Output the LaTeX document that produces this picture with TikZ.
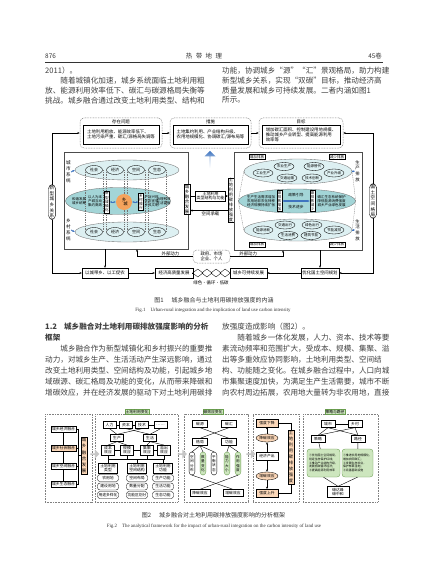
\documentclass[tikz,border=0pt]{standalone}
\usepackage{fontspec}
\setmainfont{Liberation Serif}
\newfontfamily\cjk{Noto Sans CJK SC}
\XeTeXlinebreaklocale "zh"
\XeTeXlinebreakskip=0pt plus 1pt
\usetikzlibrary{positioning,arrows.meta,shapes.geometric,shapes.arrows}

\definecolor{tealL}{HTML}{DDF0F2}
\definecolor{tealD}{HTML}{A3D5D7}
\definecolor{orngC}{HTML}{F5A35C}
\definecolor{orngL}{HTML}{FBD7B8}
\definecolor{grnL}{HTML}{CDE6BE}
\definecolor{grnD}{HTML}{6A9E4F}
\definecolor{blueA}{HTML}{3E74C0}

\begin{document}
\begin{tikzpicture}[
  x=1pt,y=-1pt,
  >={Stealth[length=2.4pt,width=2pt]},
  body/.style={font=\cjk\fontsize{7.6}{9}\selectfont,inner sep=0pt,anchor=west,text=black!75},
  hdr/.style={font=\cjk\fontsize{6.4}{8}\selectfont,inner sep=0pt,text=black!80},
  ftx/.style={font=\cjk\fontsize{4.4}{5.3}\selectfont,inner sep=0.5pt},
  stx/.style={font=\cjk\fontsize{3.5}{4.1}\selectfont,inner sep=0.3pt,align=left},
  sbox/.style={draw,line width=0.35pt,fill=white,inner sep=1pt},
  dbox/.style={draw=gray,dash pattern=on 0.8pt off 0.8pt,rounded corners=4pt,line width=0.5pt},
  frame1/.style={draw=black!70,line width=0.5pt},
  ell/.style={ellipse,draw=black!55,line width=0.35pt,inner sep=0pt},
  sell/.style={ellipse,draw,line width=0.35pt,minimum width=17,minimum height=9,inner sep=0pt,
    font=\cjk\fontsize{4}{4.8}\selectfont},
  tell/.style={ellipse,draw,line width=0.35pt,minimum width=20,minimum height=8,inner sep=0pt,
    font=\cjk\fontsize{3.5}{4.2}\selectfont},
  vbox/.style={draw,line width=0.35pt,fill=white,align=center,inner sep=0.7pt},
  vtx/.style={align=center,inner sep=0pt},
  dline/.style={draw=black!55,dash pattern=on 1pt off 0.8pt,line width=0.3pt},
  barr/.style={->,draw=blueA,line width=0.9pt},
  figcap/.style={font=\cjk\fontsize{6}{7}\selectfont,inner sep=0pt,text=black!80},
  figecap/.style={font=\fontsize{4.9}{6}\selectfont,inner sep=0pt,text=black!80},
  pnl/.style={draw=gray,dash pattern=on 0.8pt off 0.8pt,line width=0.45pt},
  box2/.style={draw,line width=0.35pt,fill=white,inner sep=0.8pt,font=\cjk\fontsize{3.8}{4.4}\selectfont,align=center},
  gtitle/.style={box2,fill=grnL,draw=grnD},
  pill/.style={box2,rounded corners=2.5pt,minimum width=21,minimum height=7},
  vpill/.style={draw,rounded corners=3pt,line width=0.35pt,fill=white,font=\cjk\fontsize{3.6}{4.4}\selectfont,
    text width=3.7pt,align=center,inner sep=1pt,minimum height=23pt},
  garr/.style={single arrow,fill=gray!45,draw=none,minimum height=9pt,minimum width=9pt,
    single arrow head extend=1pt,inner sep=0pt}
]
\useasboundingbox (0,0) rectangle (427,575);
\fill[white] (0,0) rectangle (427,575);

% running head
\node[hdr,anchor=west] (pgno) at (45,56) {876};
\node[hdr] (jtitle) at (204,56) {热\hspace{3.5pt}带\hspace{3.5pt}地\hspace{3.5pt}理};
\node[hdr,anchor=east] (volno) at (382,56) {45卷};
\coordinate (ruleL) at (45,62);
\coordinate (ruleR) at (383,62);
\draw[line width=0.9pt,black!80] (ruleL) -- (ruleR);

% text above Fig.1
\foreach \t [count=\i] in {{2011）。},{\hspace{15.2pt}随着城镇化加速，城乡系统面临土地利用粗},
  {放、能源利用效率低下、碳汇与碳源格局失衡等},{挑战。城乡融合通过改变土地利用类型、结构和}}
  \node[body] (la\i) at (45,{71+9.7*(\i-1)}) {\t};
\foreach \t [count=\i] in {{功能，协调城乡“源”“汇”景观格局，助力构建},{新型城乡关系，实现“双碳”目标，推动经济高},
  {质量发展和城乡可持续发展。二者内涵如图1},{所示。}}
  \node[body] (ra\i) at (222,{71+9.7*(\i-1)}) {\t};

%%% Fig.1
% top row
\node[dbox,minimum width=82,minimum height=30] (prob) at (121,133) {};
\node[ftx,below=1.2pt of prob.north] (probT) {存在问题};
\node[sbox,ftx,inner sep=1pt,align=left,minimum width=76,minimum height=19,below=0.8pt of probT] (probB)
  {土地利用粗放、能源效率低下、\\土地污染严重、碳汇/源格局失调等};
\node[dbox,minimum width=81,minimum height=30] (meas) at (210.5,133) {};
\node[ftx,below=1.2pt of meas.north] (measT) {措施};
\node[sbox,ftx,inner sep=1pt,align=left,minimum width=75,minimum height=19,below=0.8pt of measT] (measB)
  {土地集约利用、产业结构升级、\\农用地规模化、协调碳汇/源布局等};
\node[dbox,minimum width=84,minimum height=30] (goal) at (301,133) {};
\node[ftx,below=1.2pt of goal.north] (goalT) {目标};
\node[sbox,ftx,inner sep=1pt,align=left,minimum width=78,minimum height=19,below=0.8pt of goalT] (goalB)
  {增加碳汇面积、控制建设用地规模、\\推动城乡产业转型、提高能源利用\\效率等};
\draw[->] (prob) -- (meas);
\draw[->] (meas) -- (goal);

% side loops
\node[draw,rounded corners=4pt,line width=0.4pt,fill=white,font=\cjk\fontsize{4.6}{5.6}\selectfont,
  text width=4.7pt,align=center,inner sep=1.2pt] (xcsg) at (52,202) {新型城乡关系};
\node[draw,rounded corners=4pt,line width=0.4pt,fill=white,font=\cjk\fontsize{4.6}{5.6}\selectfont,
  text width=4.7pt,align=center,inner sep=1.2pt] (gtkj) at (373,201) {国土空间格局};

% left frame: urban-rural system
\node[frame1,minimum width=124,minimum height=97] (lframe) at (126,200.5) {};
\node[ell,fill=tealL,minimum width=104,minimum height=20] (ltop) at (127,170) {};
\node[ell,fill=tealL,minimum width=104,minimum height=20] (lbot) at (127,232) {};
\node[ell,fill=tealD,minimum width=105,minimum height=27] (lmid) at (118,201) {};
\foreach \nm/\xx [count=\k] in {社会/94,经济/115,空间/136,生态/157}{
  \node[sell] (lt\k) at (\xx,170) {\nm};
  \node[sell] (lb\k) at (\xx,232) {\nm};
  \draw[dline] (lt\k.west) -- (lb\k.west) (lt\k.east) -- (lb\k.east);
}
\node[vtx,font=\cjk\fontsize{4.6}{6}\selectfont,text width=4.7pt] (csxt) at (68.5,172) {城市系统};
\node[vtx,font=\cjk\fontsize{4.6}{6}\selectfont,text width=4.7pt] (xcxt) at (68.5,230) {乡村系统};
\draw[barr] (csxt.east) -- (ltop.west);
\draw[barr] (xcxt.east) -- (lbot.west);
\node[stx] (hxfz) at (79,201) {和谐发展\\城乡统筹};
\node[stx] (yrwb) at (95,201) {以人为本\\产城互动\\集约高效};
\node[vbox,font=\cjk\fontsize{3.6}{4.2}\selectfont,text width=3.7pt] (xxcz) at (107,202) {新型城镇化};
\node[circle,fill=orngC,minimum size=16,inner sep=0pt,align=center,
  font=\cjk\fontsize{4.4}{4.6}\selectfont] (xcc) at (124,202) {乡\\\hspace{3pt}城};
\node[vbox,font=\cjk\fontsize{3.6}{4.2}\selectfont,text width=3.7pt] (xczx) at (141,202) {乡村振兴};
\node[stx] (cyxw) at (151.5,201) {产业兴旺\\生态宜居\\乡风文明};
\node[stx] (zlyx) at (163.5,201) {治理有效\\生活富裕};
\draw[<->,draw=blueA,line width=0.8pt] (xxcz.east) -- (xcc.west);
\draw[<->,draw=blueA,line width=0.8pt] (xcc.east) -- (xczx.west);
\node[vbox,font=\cjk\fontsize{4.4}{5}\selectfont,text width=4.5pt] (cxrh) at (187,199) {城乡融合发展};

% middle link
\node[sbox,font=\cjk\fontsize{4}{4.9}\selectfont,align=center,inner sep=1pt] (tdly) at (210.5,196) {土地利用\\类型结构与功能};
\node[vbox,font=\cjk\fontsize{4.2}{4.9}\selectfont,text width=4.3pt] (tdtp) at (231,200) {土地利用碳排放强度};
\draw (cxrh.east |- tdly.west) -- (tdly.west);
\draw[->] (tdly.east) -- (tdly.east -| tdtp.west);
\coordinate (kjcz) at (210.5,210.5);
\draw[->] (kjcz -| tdtp.west) -- (kjcz -| cxrh.east);
\node[ftx,below=0.6pt of kjcz] (kjczT) {空间承载};
\node[single arrow,shape border rotate=90,draw=none,top color=blueA,bottom color=white,
  minimum height=17pt,minimum width=11pt,single arrow head extend=2.5pt,inner sep=0pt] (uparr) at (210,159.5) {};

% right frame: land use carbon emission
\node[frame1,minimum width=128,minimum height=98] (rframe) at (298,201) {};
\node[ell,fill=tealL,minimum width=108,minimum height=25] (rtop) at (298,171.5) {};
\node[ell,fill=tealL,minimum width=108,minimum height=22] (rbot) at (298,230) {};
\node[ell,fill=tealD,minimum width=117,minimum height=24] (rmid) at (297,201) {};
\draw[dline] (rtop.west) -- (rmid.west) (rtop.east) -- (rmid.east);
\draw[dline] (rbot.west) -- (rmid.west) (rbot.east) -- (rmid.east);
\foreach \nm/\xx/\yy [count=\k] in {工业生产/263/173,农业生产/284/166.5,交通运输/287/178,
  能源替代/314/166.5,技术创新/312/178,产业升级/334/173}
  \node[tell] (rt\k) at (\xx,\yy) {\nm};
\foreach \nm/\xx/\yy [count=\k] in {能源消耗/263/230,交通出行/285/225,生活消费/288/235.5,
  绿色出行/312/225,建筑节能/311/235.5,节能减排/334/230}
  \node[tell] (rb\k) at (\xx,\yy) {\nm};
\node[sbox,font=\cjk\fontsize{3.6}{4.2}\selectfont,inner sep=0.8pt] (zj1) at (257,157) {增加排放};
\node[sbox,font=\cjk\fontsize{3.6}{4.2}\selectfont,inner sep=0.8pt] (js1) at (337,157) {减少排放};
\node[sbox,font=\cjk\fontsize{3.6}{4.2}\selectfont,inner sep=0.8pt] (zj2) at (257,244.5) {增加排放};
\node[sbox,font=\cjk\fontsize{3.6}{4.2}\selectfont,inner sep=0.8pt] (js2) at (337,244.5) {减少排放};
\node[stx] (scxq) at (261,201) {生产生活需求增加\\农用地非农化转移\\经济规模持续扩张};
\node[vbox,font=\cjk\fontsize{3.6}{4.1}\selectfont,text width=3.7pt] (tpzj) at (279.5,201) {碳排放增加};
\node[stx,font=\cjk\fontsize{3.8}{4.4}\selectfont] (zcyd) at (296,195.5) {政策引导};
\node[stx,font=\cjk\fontsize{3.8}{4.4}\selectfont] (jsjb) at (296,207) {技术进步};
\node[vbox,font=\cjk\fontsize{3.6}{4.1}\selectfont,text width=3.7pt] (tpjs) at (312.5,201) {碳排放减少};
\node[stx] (thst) at (331.5,201) {碳汇生态系统保护\\降低能源消费强度\\城乡产业绿色发展};
\draw[<->,draw=blueA,line width=1.1pt] (tpzj.east) -- (tpjs.west);
\node[vtx,font=\cjk\fontsize{4.4}{5.6}\selectfont,text width=4.5pt] (scpf) at (357.5,171) {生产排放};
\node[vtx,font=\cjk\fontsize{4.4}{5.6}\selectfont,text width=4.5pt] (shpf) at (357.5,230) {生活排放};
\draw[barr] (rtop.east) -- (scpf.west);
\draw[barr] (rbot.east) -- (shpf.west);

% external drive
\node[dbox,ftx,align=center,minimum width=37,minimum height=13,inner sep=0.8pt] (zfsc) at (211.5,256.5)
  {政府、市场\\企业、个人};
\coordinate (wbl) at (137,249);
\coordinate (wbr) at (283,250);
\draw[->] (zfsc.west) -| (lframe.south -| wbl) node[ftx,pos=0.2,above] {外部动力};
\draw[->] (zfsc.east) -| (rframe.south -| wbr) node[ftx,pos=0.17,above] {外部动力};

% bottom row
\node[sbox,ftx,inner sep=1pt,minimum width=46,minimum height=10] (ycdx) at (105,273) {以城带乡、以工促农};
\node[sbox,ftx,inner sep=1pt,minimum width=38,minimum height=10] (jjgz) at (174,273) {经济高质量发展};
\node[sbox,ftx,inner sep=1pt,minimum width=37,minimum height=10] (kcx) at (248.5,273) {城乡可持续发展};
\node[sbox,ftx,inner sep=1pt,minimum width=38,minimum height=10] (yhgt) at (320,273) {优化国土空间规划};
\foreach \k in {1,...,4}
  \node[diamond,draw,line width=0.35pt,minimum width=10.5,minimum height=8,inner sep=0pt]
    (dm\k) at ({197.8+(\k-1)*9.1},273) {};
\node[ftx] (lsxh) at (211,283) {绿色・循环・低碳};
\draw[->] (ycdx) -- (jjgz);
\draw (jjgz.east) -- (dm1.west);
\draw (dm4.east) -- (kcx.west);
\draw[->] (yhgt) -- (kcx);
\draw[->] (lframe.south -| ycdx.north) -- (ycdx.north);
\draw[->] (rframe.south -| yhgt.north) -- (yhgt.north);
\draw[->] (xcsg.north) |- (prob.west);
\draw[->] (xcsg.south) |- (ycdx.west);
\draw[->] (gtkj.north) |- (goal.east);
\draw[->] (gtkj.south) |- (yhgt.east);

\node[figcap] (cap1) at (214,300) {图1\hspace{8pt}城乡融合与土地利用碳排放强度的内涵};
\node[figecap] (ecap1) at (213,310) {Fig.1\hspace{5pt}Urban-rural integration and the implication of land use carbon intensity};

% section 1.2
\node[body,font=\cjk\bfseries\fontsize{7.6}{9}\selectfont] (sec) at (45,327) {1.2\hspace{7pt}城乡融合对土地利用碳排放强度影响的分析};
\node[body,font=\cjk\bfseries\fontsize{7.6}{9}\selectfont] (sec2) at (45,338) {框架};
\foreach \t [count=\i] in {{\hspace{15.2pt}城乡融合作为新型城镇化和乡村振兴的重要推},
  {动力，对城乡生产、生活活动产生深远影响，通过},{改变土地利用类型、空间结构及功能，引起城乡地},
  {域碳源、碳汇格局及功能的变化，从而带来降碳和},{增碳效应，并在经济发展的驱动下对土地利用碳排}}
  \node[body] (lb\i) at (45,{348.5+11*(\i-1)}) {\t};
\node[body] (rb0) at (222,327) {放强度造成影响（图2）。};
\foreach \t [count=\i] in {{\hspace{15.2pt}随着城乡一体化发展，人力、资本、技术等要},
  {素流动频率和范围扩大，受成本、规模、集聚、溢},{出等多重效应协同影响，土地利用类型、空间结},
  {构、功能随之变化。在城乡融合过程中，人口向城},{市集聚速度加快，为满足生产生活需要，城市不断},
  {向农村周边拓展，农用地大量转为非农用地，直接}}
  \node[body] (rb\i) at (222,{338+11*(\i-1)}) {\t};

%%% Fig.2
\node[pnl,minimum width=47,minimum height=88] (pA) at (68.5,458) {};
\node[pnl,minimum width=83,minimum height=88] (pB) at (136.5,458) {};
\node[pnl,minimum width=64,minimum height=88] (pC) at (216,458) {};
\node[pnl,minimum width=46,minimum height=88] (pD) at (276,458) {};
\node[pnl,minimum width=75,minimum height=88] (pE) at (340.5,458) {};
\node[garr] (ar1) at (94.5,454) {};
\node[garr] (ar2) at (182,454) {};
\node[garr] (ar3) at (250.5,454) {};

% panel A
\node[box2,minimum width=24,minimum height=6.5] (a1) at (63.5,429) {城乡经济融合};
\node[box2,minimum width=24,minimum height=6.5,fill=orngL] (a2) at (63.5,448) {城乡社会融合};
\node[box2,minimum width=24,minimum height=6.5] (a3) at (63.5,466) {城乡空间融合};
\node[box2,minimum width=24,minimum height=6.5] (a4) at (63.5,484) {城乡生态融合};
\node[box2,fill=orngL,font=\cjk\fontsize{4.4}{6.2}\selectfont,text width=4.5pt] (a5) at (84,455.5) {城乡融合发展};
\coordinate (aR) at (78,455.5);
\draw (a1) -- (a2) -- (a3) -- (a4);
\draw (a1.east) -| (aR);
\draw (a4.east) -| (aR);
\draw (a2.east) -- (a2.east -| aR);
\draw (a3.east) -- (a3.east -| aR);
\draw (aR) -- (a5.west);

% panel B
\node[gtitle] (b0) at (137,412) {土地利用变化};
\foreach \nm/\xx [count=\k] in {人力/109.5,资本/126,技术/142,……/160.5}
  \node[box2,minimum width=13,minimum height=7] (b\k) at (\xx,425) {\nm};
\draw (b1) -- (b2) -- (b3) -- (b4);
\node[box2,minimum width=13,minimum height=7] (b5) at (117,438) {生产};
\node[box2,minimum width=13,minimum height=7] (b6) at (150,438) {生活};
\draw (b1.south) -- (b5.north);
\draw (b3.south) -- (b5.north);
\draw (b2.south) -- (b6.north);
\draw (b4.south) -- (b6.north);
\foreach \nm/\xx [count=\k from 7] in {成本/108,规模/127,集聚/147,溢出/164}
  \node[box2,minimum width=13] (b\k) at (\xx,450) {\nm\\效应};
\draw (b7) -- (b8) -- (b9) -- (b10);
\draw (b5.south) -- (b7.north);
\draw (b5.south) -- (b8.north);
\draw (b6.south) -- (b9.north);
\draw (b6.south) -- (b10.north);
\node[box2,minimum width=19] (b11) at (108,468) {土地利用\\类型};
\node[box2,minimum width=19] (b12) at (137,468) {土地利用\\空间结构};
\node[box2,minimum width=19] (b13) at (163,468) {土地利用\\功能};
\coordinate (bbus) at (137,459.5);
\foreach \k in {7,...,10} \draw (b\k.south) -- (b\k.south |- bbus);
\draw (b7.south |- bbus) -- (b10.south |- bbus);
\foreach \k in {11,12,13} \draw (b\k.north |- bbus) -- (b\k.north);
\foreach \nm/\xx/\yy [count=\k] in {农用地/108/478,建设用地/108/486.5,用途多样化/108/495,
  空间布局/137/478,数量分配/137/486.5,功能区划分/137/495,
  生产功能/163/478,生活功能/163/486.5,生态功能/163/495}
  \node[pill] (pl\k) at (\xx,\yy) {\nm};

% panel C
\node[gtitle] (c0) at (213,412) {碳效应变化};
\node[box2,minimum width=15,minimum height=7] (c1) at (200,424) {碳源};
\node[box2,minimum width=15,minimum height=7] (c2) at (229,424) {碳汇};
\node[box2,minimum width=15,minimum height=7] (c3) at (200,442) {格局};
\node[box2,minimum width=15,minimum height=7] (c4) at (229,442) {功能};
\draw (c1.south) -- (c4.north);
\draw (c2.south) -- (c3.north);
\node[vpill] (c5) at (192,463.5) {空间分布};
\node[vpill,fill=grnL,draw=grnD] (c6) at (203,463.5) {数量变化};
\node[vpill] (c7) at (214,463.5) {平衡状态};
\node[vpill,fill=grnL,draw=grnD] (c8) at (227,463.5) {能力大小};
\node[vpill,fill=grnL,draw=grnD] (c9) at (238,463.5) {作用强度};
\foreach \k in {5,6,7} \draw (c3.south) -- (c\k.north);
\foreach \k in {8,9} \draw (c4.south) -- (c\k.north);
\node[box2,minimum width=20,minimum height=7] (c10) at (200,493) {降碳效应};
\node[box2,minimum width=20,minimum height=7] (c11) at (233,493) {增碳效应};
\draw (c5.south) -- (c11.north);
\draw (c9.south) -- (c10.north);

% panel D
\node[box2,fill=orngL,minimum width=22,minimum height=7.5] (d1) at (267,423) {强度下降};
\node[ellipse,box2,fill=orngL,minimum width=22,minimum height=8,inner sep=0pt] (d2) at (267,438) {降碳效应};
\node[box2,minimum width=22,minimum height=7.5] (d3) at (267,456) {经济产出};
\node[ellipse,box2,fill=orngL,minimum width=22,minimum height=8,inner sep=0pt] (d4) at (267,476) {增碳效应};
\node[box2,fill=orngL,minimum width=22,minimum height=7.5] (d5) at (267,493) {强度上升};
\node[box2,fill=orngL,font=\cjk\fontsize{4.3}{6}\selectfont,text width=4.4pt] (d6) at (291,457) {土地利用碳排放强度};
\draw[->] (d2) -- (d1);
\draw[->] (d3) -- (d2);
\draw[->] (d3) -- (d4);
\draw[->] (d4) -- (d5);
\draw (d1.east) -| (d6.north);
\draw (d5.east) -| (d6.south);

% panel E
\node[gtitle] (e0) at (335,412) {策略与路径};
\node[box2,minimum width=14,minimum height=7] (e1) at (328,424) {城市};
\node[box2,minimum width=14,minimum height=7] (e2) at (355,424) {乡村};
\node[box2,minimum width=14,minimum height=7] (e3) at (318,439) {策略};
\node[box2,minimum width=14,minimum height=7] (e4) at (358,439) {路径};
\draw (e1) -- (e2);
\draw (e1.south) -- (e3.north);
\draw (e1.south) -- (e4.north);
\draw (e2.south) -- (e3.north);
\draw (e2.south) -- (e4.north);
\node[box2,fill=grnL,draw=grnD,rounded corners=3pt,align=left,minimum width=33,minimum height=28,
  font=\cjk\fontsize{2.9}{3.7}\selectfont] (e5) at (323.5,463)
  {①优化国土空间格局，\\划定生态保护红线；\\②推动产业结构升级，\\发展低碳循环经济；\\③提高能源利用效率};
\node[box2,fill=grnL,draw=grnD,rounded corners=3pt,align=left,minimum width=31,minimum height=28,
  font=\cjk\fontsize{2.9}{3.7}\selectfont] (e6) at (357.5,463)
  {①推进农用地规模化，\\增加农田碳汇；\\②发展生态农业，\\保护林草湿地；\\③完善基础设施};
\node[box2,minimum width=22,minimum height=11] (e7) at (338,492) {碳达峰\\碳中和};
\draw (e3) -- (e5);
\draw (e4) -- (e6);
\draw (e5.south) -- (e7.north);
\draw (e6.south) -- (e7.north);

\node[figcap] (cap2) at (213.5,515.5) {图2\hspace{8pt}城乡融合对土地利用碳排放强度影响的分析框架};
\node[figecap] (ecap2) at (214,526) {Fig.2\hspace{5pt}The analytical framework for the impact of urban-rural integration on the carbon intensity of land use};
\end{tikzpicture}
\end{document}
